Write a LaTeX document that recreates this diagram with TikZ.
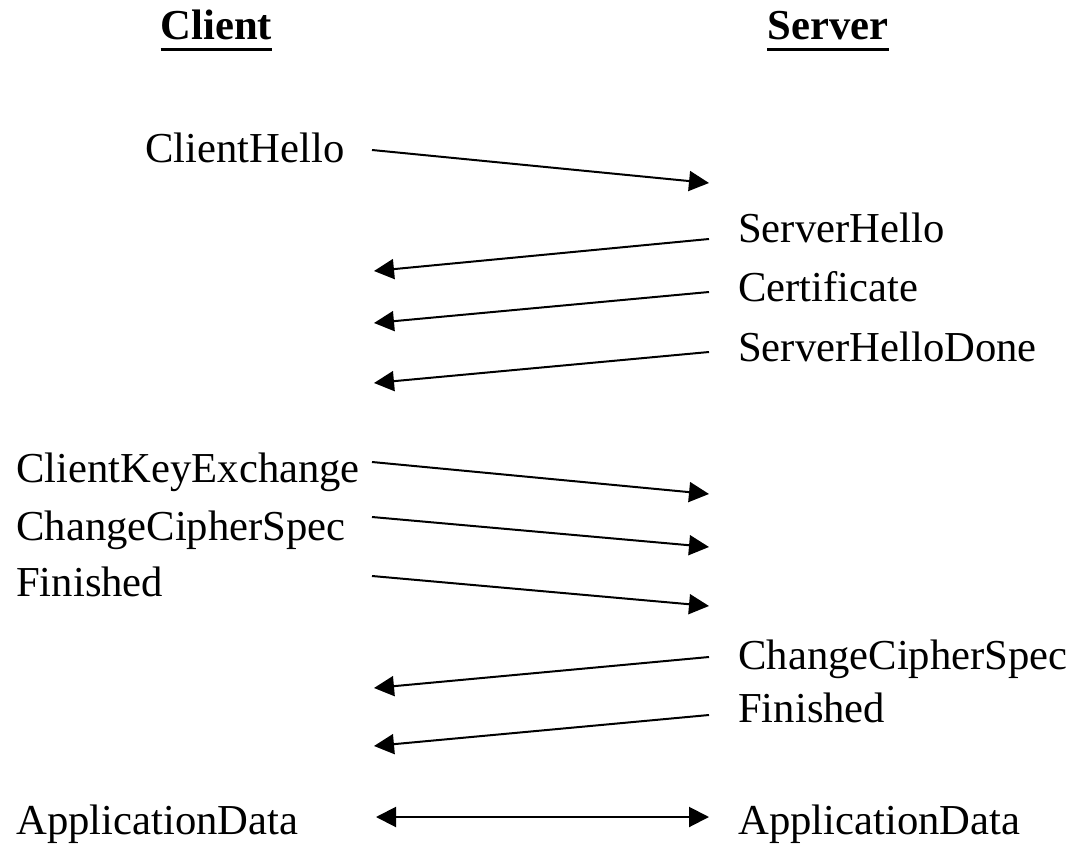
\documentclass[tikz,border=0pt]{standalone}
\usepackage{fontspec}
\setmainfont{Liberation Serif}
\usetikzlibrary{arrows.meta,calc}
\begin{document}
\begin{tikzpicture}[x=0.75pt,y=-0.75pt,
  lbl/.style={anchor=base west,inner sep=0pt,font=\fontsize{32}{38}\selectfont},
  hdr/.style={anchor=base,inner sep=0pt,font=\fontsize{32}{38}\selectfont\bfseries},
  msg/.style={line width=1.5pt,-{Triangle[length=15pt,width=15pt]}},
  both/.style={line width=1.5pt,{Triangle[length=15pt,width=15pt]}-{Triangle[length=15pt,width=15pt]}},
  uline/.style={line width=2.3pt}]
\useasboundingbox (0,0) rectangle (1070,848);
% headers
\node[hdr] (client) at (216.5,39.5) {Client};
\node[hdr] (server) at (828,39.5) {Server};
\draw[uline] ($(client.base west)+(0,10)$) -- ($(client.base east)+(0,10)$);
\draw[uline] ($(server.base west)+(0,10)$) -- ($(server.base east)+(0,10)$);
% labels
\node[lbl] (ch) at (145,163) {ClientHello};
\node[lbl] (sh) at (738,243) {ServerHello};
\node[lbl] (cert) at (738,302) {Certificate};
\node[lbl] (shd) at (738,362) {ServerHelloDone};
\node[lbl] (cke) at (16,482) {ClientKeyExchange};
\node[lbl] (ccsc) at (16,540) {ChangeCipherSpec};
\node[lbl] (finc) at (16,596) {Finished};
\node[lbl] (ccss) at (738,669) {ChangeCipherSpec};
\node[lbl] (fins) at (738,722) {Finished};
\node[lbl] (adc) at (16,834) {ApplicationData};
\node[lbl] (ads) at (738,834) {ApplicationData};
% arrow end points
\coordinate (a1s) at (372,150); \coordinate (a1e) at (709,183);
\coordinate (a2s) at (709,239); \coordinate (a2e) at (374,271);
\coordinate (a3s) at (709,292); \coordinate (a3e) at (374,323);
\coordinate (a4s) at (709,352); \coordinate (a4e) at (374,383);
\coordinate (a5s) at (372,462); \coordinate (a5e) at (709,494);
\coordinate (a6s) at (372,517); \coordinate (a6e) at (709,547);
\coordinate (a7s) at (372,576); \coordinate (a7e) at (709,606);
\coordinate (a8s) at (709,657); \coordinate (a8e) at (374,688);
\coordinate (a9s) at (709,715); \coordinate (a9e) at (374,746);
\coordinate (a10s) at (376,817); \coordinate (a10e) at (709,817);
% arrows
\draw[msg] (a1s) -- (a1e);
\draw[msg] (a2s) -- (a2e);
\draw[msg] (a3s) -- (a3e);
\draw[msg] (a4s) -- (a4e);
\draw[msg] (a5s) -- (a5e);
\draw[msg] (a6s) -- (a6e);
\draw[msg] (a7s) -- (a7e);
\draw[msg] (a8s) -- (a8e);
\draw[msg] (a9s) -- (a9e);
\draw[both] (a10s) -- (a10e);
\end{tikzpicture}
\end{document}
